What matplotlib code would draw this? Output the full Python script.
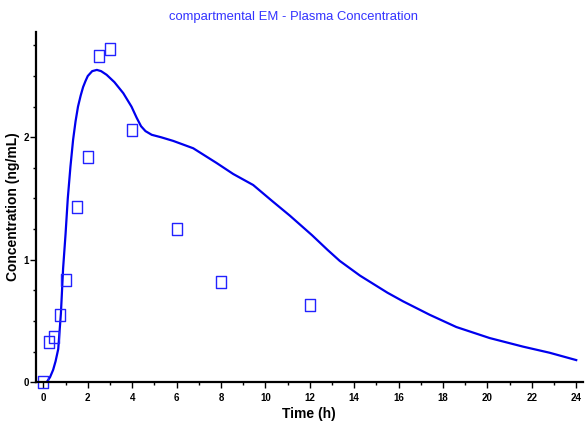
import matplotlib
matplotlib.use("Agg")
import matplotlib.pyplot as plt
from matplotlib.ticker import MultipleLocator
from matplotlib.path import Path

# observed concentrations
obs_time = [0, 0.25, 0.5, 0.75, 1, 1.5, 2, 2.5, 3, 4, 6, 8, 12]
obs_conc = [0.0, 0.33, 0.37, 0.55, 0.83, 1.43, 1.84, 2.66, 2.72, 2.06, 1.25, 0.82, 0.63]

# model prediction
pred_time = [0, 0.15, 0.3, 0.44, 0.55, 0.67, 0.79, 0.89, 1.0, 1.1, 1.22, 1.34, 1.45,
             1.56, 1.68, 1.79, 1.9, 2.0, 2.2, 2.41, 2.6, 2.85, 3.2, 3.6, 3.97,
             4.2, 4.4, 4.6, 4.88, 5.3, 5.85, 6.75, 7.8, 8.55, 9.45, 10.3,
             11.1, 12.1, 12.8, 13.35, 14.26, 15.5, 16.2, 17.4, 18.6, 20.1, 21.6, 22.8, 24]
pred_conc = [0, 0.0, 0.04, 0.1, 0.17, 0.27, 0.56, 0.93, 1.21, 1.5, 1.76, 1.98, 2.13,
             2.25, 2.34, 2.41, 2.46, 2.5, 2.54, 2.55, 2.54, 2.51, 2.45, 2.36, 2.25,
             2.16, 2.09, 2.05, 2.02, 2.0, 1.97, 1.91, 1.79, 1.7, 1.61, 1.48,
             1.36, 1.2, 1.08, 0.99, 0.87, 0.73, 0.66, 0.55, 0.45, 0.36, 0.29, 0.24, 0.18]

plt.rcParams['font.family'] = ['Liberation Sans', 'DejaVu Sans']

box = Path([(-0.8, -1), (0.8, -1), (0.8, 1), (-0.8, 1), (-0.8, -1)],
           [Path.MOVETO, Path.LINETO, Path.LINETO, Path.LINETO, Path.CLOSEPOLY])

fig = plt.figure(figsize=(5.87, 4.26), dpi=100)
ax = fig.add_axes([0.061, 0.103, 0.932, 0.822])

ax.plot(pred_time, pred_conc, color="#0000ee", lw=1.6)
ax.plot(obs_time, obs_conc, ls="none", marker=box, ms=9, mfc="none",
        mec="#2222ff", mew=1.0, clip_on=False)

ax.set_xlim(-0.34, 24.3)
ax.set_ylim(0, 2.86)
ax.xaxis.set_major_locator(MultipleLocator(2))
ax.xaxis.set_minor_locator(MultipleLocator(1))
ax.yaxis.set_major_locator(MultipleLocator(1))
ax.yaxis.set_minor_locator(MultipleLocator(0.25))

for s in ["top", "right"]:
    ax.spines[s].set_visible(False)
for s in ["left", "bottom"]:
    ax.spines[s].set_linewidth(1.6)

ax.tick_params(which="both", direction="out", width=1, labelsize=7)
ax.tick_params(which="major", length=4)
ax.tick_params(which="minor", length=2.5)
ax.tick_params(axis="y", pad=1)
for lab in ax.get_xticklabels() + ax.get_yticklabels():
    lab.set_fontweight("bold")

ax.set_xlabel("Time (h)", fontsize=10, fontweight="bold")
ax.xaxis.set_label_coords(0.5, -0.071)
ax.set_ylabel("Concentration (ng/mL)", fontsize=10, fontweight="bold")
ax.yaxis.set_label_coords(-0.028, 0.5)
fig.suptitle("compartmental EM - Plasma Concentration", color="#3333ff",
             fontsize=9.4, y=0.975)

fig.savefig("out.png", dpi=100)
